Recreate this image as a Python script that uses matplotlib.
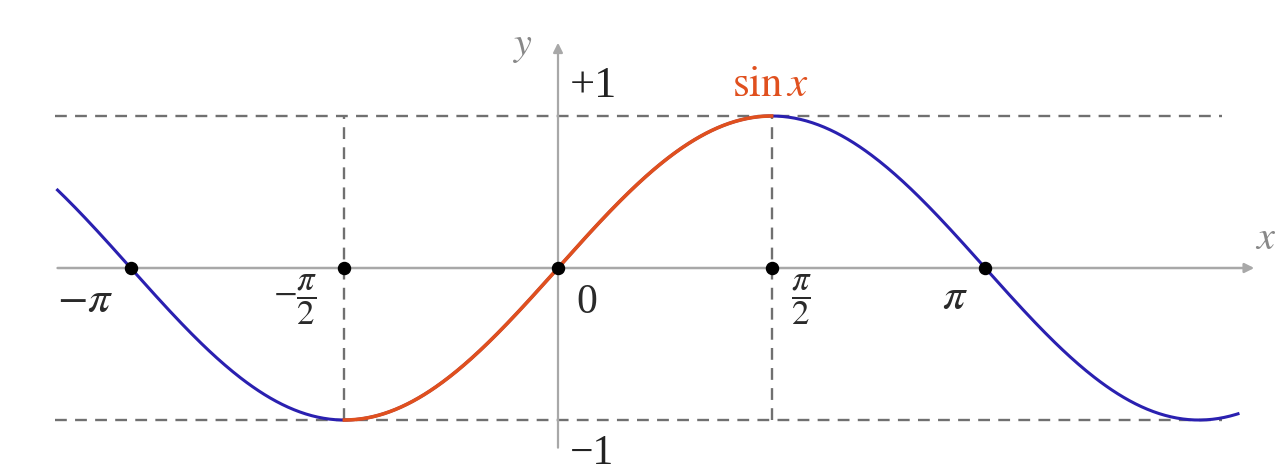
import numpy as np
import matplotlib.pyplot as plt

plt.rcParams["font.family"] = ["Liberation Serif", "DejaVu Serif"]
plt.rcParams["mathtext.fontset"] = "stix"

# curve range and marked points
x_start, x_end = -3.68, 5.0
x_red = [-np.pi / 2, np.pi / 2]
dot_x = [-np.pi, -np.pi / 2, 0, np.pi / 2, np.pi]
tick_labels = [r"$-\pi$", r"$-\dfrac{\pi}{2}$", "0", r"$\dfrac{\pi}{2}$", r"$\pi$"]
tick_label_x = [-3.48, -1.93, 0.21, 1.79, 2.92]
tick_label_y = [-0.22, -0.21, -0.23, -0.21, -0.20]
tick_label_size = [32, 25, 30, 25, 32]
levels = [1, -1]

fig = plt.figure(figsize=(12.83, 4.74), dpi=100)
ax = fig.add_axes([0, 0, 1, 1])
ax.set_xlim(-4.103, 5.331)
ax.set_ylim(-1.355, 1.763)
ax.axis("off")

blue = "#2a20b0"
red = "#e0501e"
gray = "#a8a8a8"

# axes with arrows
ax.annotate("", xy=(5.14, 0), xytext=(-3.7, 0),
            arrowprops=dict(arrowstyle="-|>", color=gray, lw=1.8, mutation_scale=14))
ax.annotate("", xy=(0, 1.5), xytext=(0, -1.2),
            arrowprops=dict(arrowstyle="-|>", color=gray, lw=1.6, mutation_scale=14))

# dashed guide lines
for lv in levels:
    ax.plot([-3.7, 4.88], [lv, lv], ls=(0, (5, 3.5)), color="#707070", lw=1.7)
for xv in x_red:
    ax.plot([xv, xv], [-1, 1], ls=(0, (5, 3.5)), color="#707070", lw=1.7)

# sine curve
xs = np.linspace(x_start, x_end, 600)
ax.plot(xs, np.sin(xs), color=blue, lw=2.2)
xr = np.linspace(x_red[0], x_red[1], 300)
ax.plot(xr, np.sin(xr), color=red, lw=2.6)

ax.scatter(dot_x, [0] * len(dot_x), s=75, color="black", zorder=5)

for lx, ly, fs, lab in zip(tick_label_x, tick_label_y, tick_label_size, tick_labels):
    ax.text(lx, ly, lab, fontsize=fs, va="center", ha="center", color="#2a2a2a")

ax.text(0.09, 1.2, "+1", fontsize=32, ha="left", va="center", color="#222222")
ax.text(0.09, -1.225, "\u22121", fontsize=30, ha="left", va="center", color="#222222")
ax.text(-0.26, 1.46, "$y$", fontsize=29, ha="center", va="center", color="#888888")
ax.text(5.2, 0.19, "$x$", fontsize=29, ha="center", va="center", color="#888888")
ax.text(1.56, 1.2, r"$\mathrm{sin}\,x$", fontsize=31, ha="center", va="center", color=red)

fig.savefig("out.png", dpi=100)
